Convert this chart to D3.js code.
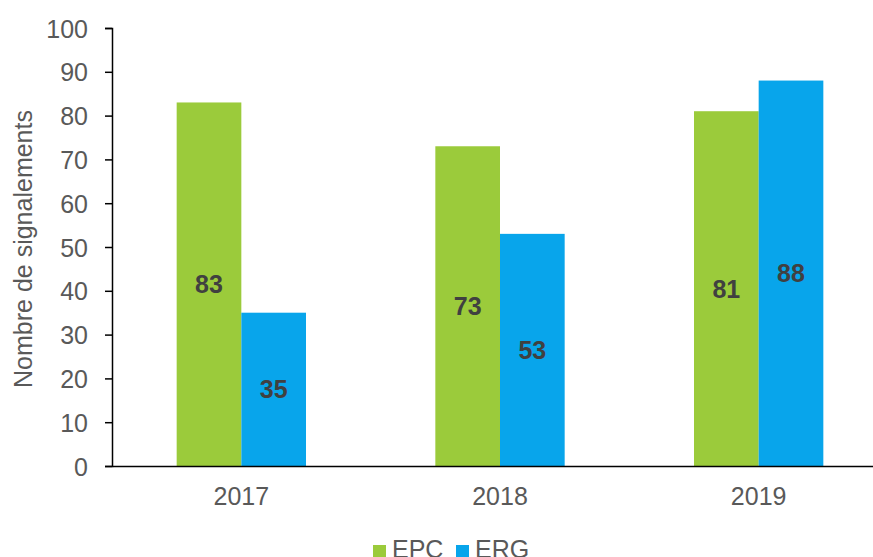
<!DOCTYPE html>
<html>
<head>
<meta charset="utf-8">
<script src="https://cdn.jsdelivr.net/npm/d3@7"></script>
<style>
  body { margin: 0; background: #fff; overflow: hidden; }
  svg { display: block; font-family: "Liberation Sans", Arial, sans-serif; }
  .axis path, .axis line { stroke: #000; stroke-width: 1.5; }
  .axis text { fill: #595959; font-size: 25px; }
</style>
</head>
<body>
<div id="chart"></div>
<script>
const years = ['2017', '2018', '2019'];
const seriesNames = ['EPC', 'ERG'];
const epcValues = [83, 73, 81];
const ergValues = [35, 53, 88];
const yTicks = [0, 10, 20, 30, 40, 50, 60, 70, 80, 90, 100];
const COLORS = { EPC: '#9bcb3b', ERG: '#08a5eb' };

const W = 873, H = 557;
const margin = { top: 28, right: -15, bottom: 91, left: 112 };
const w = W - margin.left - margin.right;
const h = H - margin.top - margin.bottom;

const rows = years.map((y, i) => ({ year: y, EPC: epcValues[i], ERG: ergValues[i] }));

const svg = d3.select('#chart').append('svg').attr('width', W).attr('height', H);
const g = svg.append('g').attr('transform', `translate(${margin.left},${margin.top})`);

const x0 = d3.scaleBand().domain(years).range([0, w]).paddingInner(0.5).paddingOuter(0.25);
const x1 = d3.scaleBand().domain(seriesNames).range([0, x0.bandwidth()]);
const y = d3.scaleLinear().domain([0, 100]).range([h, 0]);

// Bars
const groups = g.selectAll('.grp').data(rows).join('g')
  .attr('transform', d => `translate(${x0(d.year)},0)`);

groups.selectAll('rect')
  .data(d => seriesNames.map(k => ({ key: k, value: d[k] })))
  .join('rect')
  .attr('x', d => x1(d.key))
  .attr('y', d => y(d.value))
  .attr('width', x1.bandwidth())
  .attr('height', d => h - y(d.value))
  .attr('fill', d => COLORS[d.key]);

// value labels, centred in each bar
groups.selectAll('.lbl')
  .data(d => seriesNames.map(k => ({ key: k, value: d[k] })))
  .join('text')
  .attr('class', 'lbl')
  .attr('x', d => x1(d.key) + x1.bandwidth() / 2)
  .attr('y', d => y(d.value / 2))
  .attr('dy', '0.36em')
  .attr('text-anchor', 'middle')
  .attr('fill', '#404040')
  .attr('font-size', 25)
  .attr('font-weight', 'bold')
  .text(d => d.value);

// Axes
g.append('g').attr('class', 'axis')
  .call(d3.axisLeft(y).tickValues(yTicks).tickSize(7).tickPadding(17).tickSizeOuter(7))
  .call(a => a.selectAll('text').attr('dy', '0.36em'));

g.append('g').attr('class', 'axis')
  .attr('transform', `translate(0,${h})`)
  .call(d3.axisBottom(x0).tickSize(0).tickPadding(21).tickSizeOuter(0));

// Y title
svg.append('text')
  .attr('transform', `translate(32,${margin.top + h / 2 + 2}) rotate(-90)`)
  .attr('text-anchor', 'middle')
  .attr('fill', '#595959')
  .attr('font-size', 25)
  .text('Nombre de signalements');

// Legend (cut by the bottom edge, as in the original)
const legend = svg.append('g').attr('transform', 'translate(373,545)');
const lx = [0, 83];
seriesNames.forEach((k, i) => {
  legend.append('rect').attr('x', lx[i]).attr('y', 0).attr('width', 13).attr('height', 13).attr('fill', COLORS[k]);
  legend.append('text').attr('x', lx[i] + 19).attr('y', 13)
    .attr('font-size', 25).attr('fill', '#595959').text(k);
});
</script>
</body>
</html>
